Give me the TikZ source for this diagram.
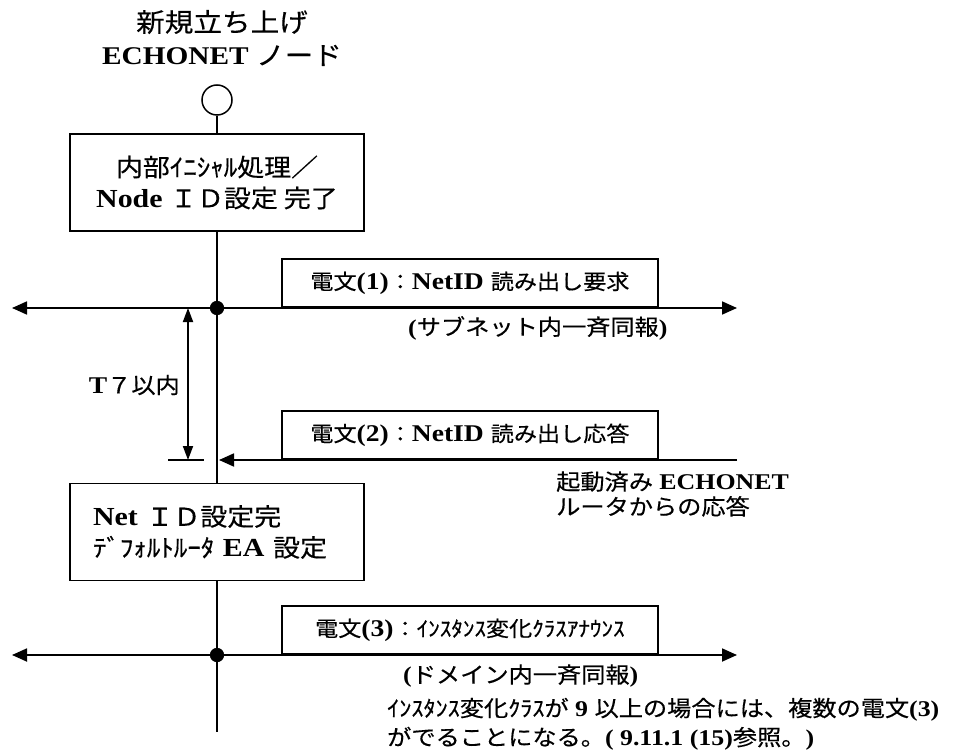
\documentclass[tikz,border=0pt]{standalone}
\usepackage{fontspec}
\setmainfont{Liberation Serif}[FakeStretch=1.15]
\newfontfamily\jpfont{Noto Sans CJK JP}[FakeStretch=1.1,FakeBold=0.4]
\newcommand\jpsz{20}
\newcommand\jp[1]{{\jpfont\mdseries\fontsize{\jpsz}{\jpsz}\selectfont #1}}
\usetikzlibrary{positioning,arrows.meta,calc}
\tikzset{
    stepbox/.style={rectangle,draw,line width=1.8pt,minimum width=294pt,
                    minimum height=97pt,inner sep=0pt,
                    font=\fontsize{26}{31}\selectfont\bfseries\def\jpsz{24.5}},
    msgbox/.style={rectangle,draw,line width=1.8pt,minimum width=376pt,
                   minimum height=48pt,inner sep=0pt,anchor=south west,
                   font=\fontsize{24}{30}\selectfont\bfseries\def\jpsz{21}},
    note/.style={align=left,inner sep=0pt,anchor=west,
                 font=\fontsize{22.5}{25}\selectfont\bfseries\def\jpsz{22}},
    spine/.style={line width=1.8pt},
    bus/.style={line width=1.8pt,
                {Triangle[length=15pt,width=13pt]}-{Triangle[length=15pt,width=13pt]}},
    reply/.style={line width=1.8pt,-{Triangle[length=15pt,width=13pt]}},
    dim/.style={line width=1.8pt,
                {Triangle[length=14pt,width=10pt]}-{Triangle[length=14pt,width=10pt]}},
    dot/.style={circle,fill,inner sep=0pt,minimum size=14pt},
}

\begin{document}
\begin{tikzpicture}[x=1pt,y=-1pt]
    \useasboundingbox (0,0) rectangle (966,751);

    % ---- ノード ----
    \node[align=center,inner sep=0pt,font=\fontsize{25.5}{33}\selectfont\bfseries\def\jpsz{26}] (title) at (222,38)
        {\jp{新規立ち上げ}\\ECHONET \jp{ノード}};
    \node[circle,draw,line width=1.5pt,minimum size=30pt,inner sep=0pt] (start) at (217,100) {};

    \node[stepbox,align=center] (init) at (217,182.5)
        {\jp{内部ｲﾆｼｬﾙ処理／}\\Node \jp{ＩＤ設定 完了}};
    \node[stepbox,align=left,text width=248pt,inner xsep=23pt] (netid) at (217,532)
        {Net \jp{ＩＤ設定完}\\\jp{ﾃﾞﾌｫﾙﾄﾙｰﾀ} EA \jp{設定}};

    \coordinate (spineend) at (217,732);

    % ---- 電文 ----
    \node[dot] (dot1) at (217,308) {};
    \coordinate (bus1w) at (12,308);
    \coordinate (bus1e) at (737,308);
    \node[msgbox] (msg1) at (281,308)
        {\jp{電文}(1)\jp{：}NetID \jp{読み出し要求}};
    \node[note] (bcast1) at (408,328) {(\jp{サブネット内一斉同報})};

    \coordinate (reply) at (737,460);
    \coordinate (replyend) at (219,460);
    \node[msgbox] (msg2) at (281,460)
        {\jp{電文}(2)\jp{：}NetID \jp{読み出し応答}};
    \node[note] (router) at (556,494)
        {\jp{起動済み} ECHONET\\\jp{ルータからの応答}};

    \node[dot] (dot2) at (217,655) {};
    \coordinate (bus2w) at (12,655);
    \coordinate (bus2e) at (737,655);
    \node[msgbox] (msg3) at (281,655)
        {\jp{電文}(3)\jp{：ｲﾝｽﾀﾝｽ変化ｸﾗｽｱﾅｳﾝｽ}};
    \node[note] (bcast2) at (403,676) {(\jp{ドメイン内一斉同報})};
    \node[note,font=\fontsize{22.5}{29}\selectfont\bfseries\def\jpsz{22}] (remark) at (387,724)
        {\jp{ｲﾝｽﾀﾝｽ変化ｸﾗｽが} 9 \jp{以上の場合には、複数の電文}(3)\\\jp{がでることになる。}( 9.11.1 (15)\jp{参照。})};

    % ---- T7 ----
    \coordinate (t7top) at (188,308);
    \coordinate (t7bot) at (188,460);
    \coordinate (tickw) at (168,460);
    \coordinate (ticke) at (204,460);
    \node[inner sep=0pt,anchor=east,font=\fontsize{24}{30}\selectfont\bfseries\def\jpsz{22}] (t7) at (180,385)
        {T\jp{７以内}};

    % ---- 連線 ----
    \draw[spine] (start) -- (init);
    \draw[spine] (init) -- (netid);
    \draw[spine] (netid) -- (spineend);
    \draw[bus] (bus1w) -- (bus1e);
    \draw[bus] (bus2w) -- (bus2e);
    \draw[reply] (reply) -- (replyend);
    \draw[dim] (t7top) -- (t7bot);
    \draw[line width=1.5pt] (tickw) -- (ticke);
    \node[dot] at (dot1) {};
    \node[dot] at (dot2) {};

\end{tikzpicture}
\end{document}
